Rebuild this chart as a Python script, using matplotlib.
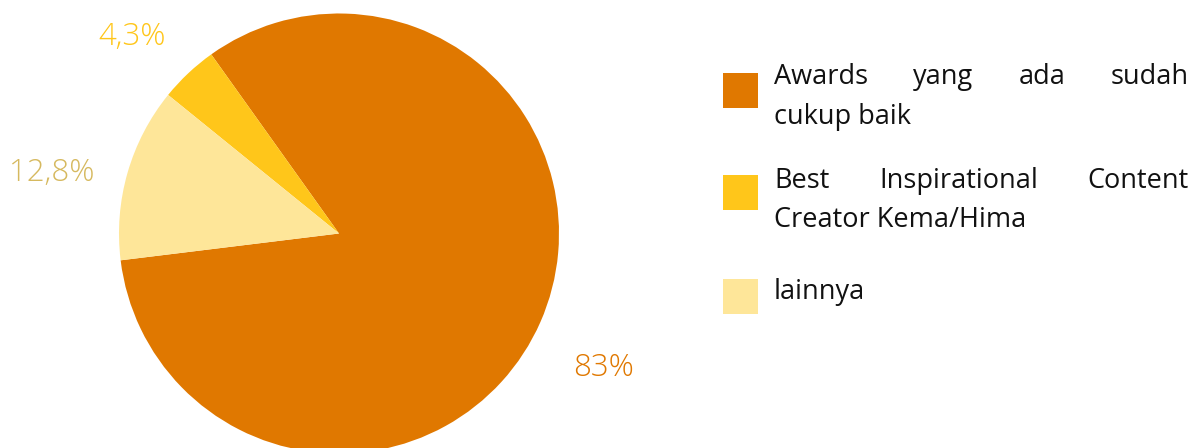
import matplotlib
matplotlib.use("Agg")
import matplotlib.pyplot as plt
import matplotlib.patches as mpatches

plt.rcParams["font.family"] = ["Open Sans", "DejaVu Sans"]

# data
labels = ["Awards yang ada sudah cukup baik",
          "Best Inspirational Content Creator Kema/Hima",
          "lainnya"]
legend_lines = [["Awards yang ada sudah", "cukup baik"],
                ["Best Inspirational Content", "Creator Kema/Hima"],
                ["lainnya"]]
values = [83.0, 4.3, 12.8]
pct_text = ["83%", "4,3%", "12,8%"]

COLORS = ["#E07800", "#FFC61A", "#FEE699"]
LABEL_COLORS = ["#E07800", "#FFC61A", "#D6B95F"]

W, H = 1202, 448
fig = plt.figure(figsize=(W / 100, H / 100), dpi=100)
ax = fig.add_axes([0, 0, 1, 1])

cx, cy, r = 339, H - 233.5, 220
ax.pie(values, colors=COLORS, startangle=187, counterclock=True,
       center=(cx, cy), radius=r, frame=True,
       wedgeprops=dict(linewidth=0))
ax.set_xlim(0, W)
ax.set_ylim(0, H)
ax.axis("off")

# percentage labels
label_pos = [(604, 368), (132, 37), (52, 173)]
for (px, py), t, c in zip(label_pos, pct_text, LABEL_COLORS):
    ax.text(px, H - py, t, color=c, fontsize=22.5, fontweight="light",
            ha="center", va="center")

# legend with justified text
x0, x1 = 774, 1189
box_tops = [73, 175, 279]
line_y = [[73, 113], [177, 216], [289]]
fig.canvas.draw()
renderer = fig.canvas.get_renderer()
for i, lines in enumerate(legend_lines):
    top = box_tops[i]
    ax.add_patch(mpatches.Rectangle((723, H - top - 35), 35, 35,
                                    color=COLORS[i], lw=0))
    for j, line in enumerate(lines):
        y = H - line_y[i][j]
        justify = j < len(lines) - 1
        if not justify:
            ax.text(x0, y, line, fontsize=19.5, color="#111111",
                    ha="left", va="center_baseline")
            continue
        words = line.split()
        txts = [ax.text(x0, y, w, fontsize=19.5, color="#111111",
                        ha="left", va="center_baseline") for w in words]
        fig.canvas.draw()
        widths = [t.get_window_extent(renderer).width for t in txts]
        gap = (x1 - x0 - sum(widths)) / (len(words) - 1)
        xpos = x0
        for t, wd in zip(txts, widths):
            t.set_x(xpos)
            xpos += wd + gap

fig.savefig("out.png", dpi=100)
